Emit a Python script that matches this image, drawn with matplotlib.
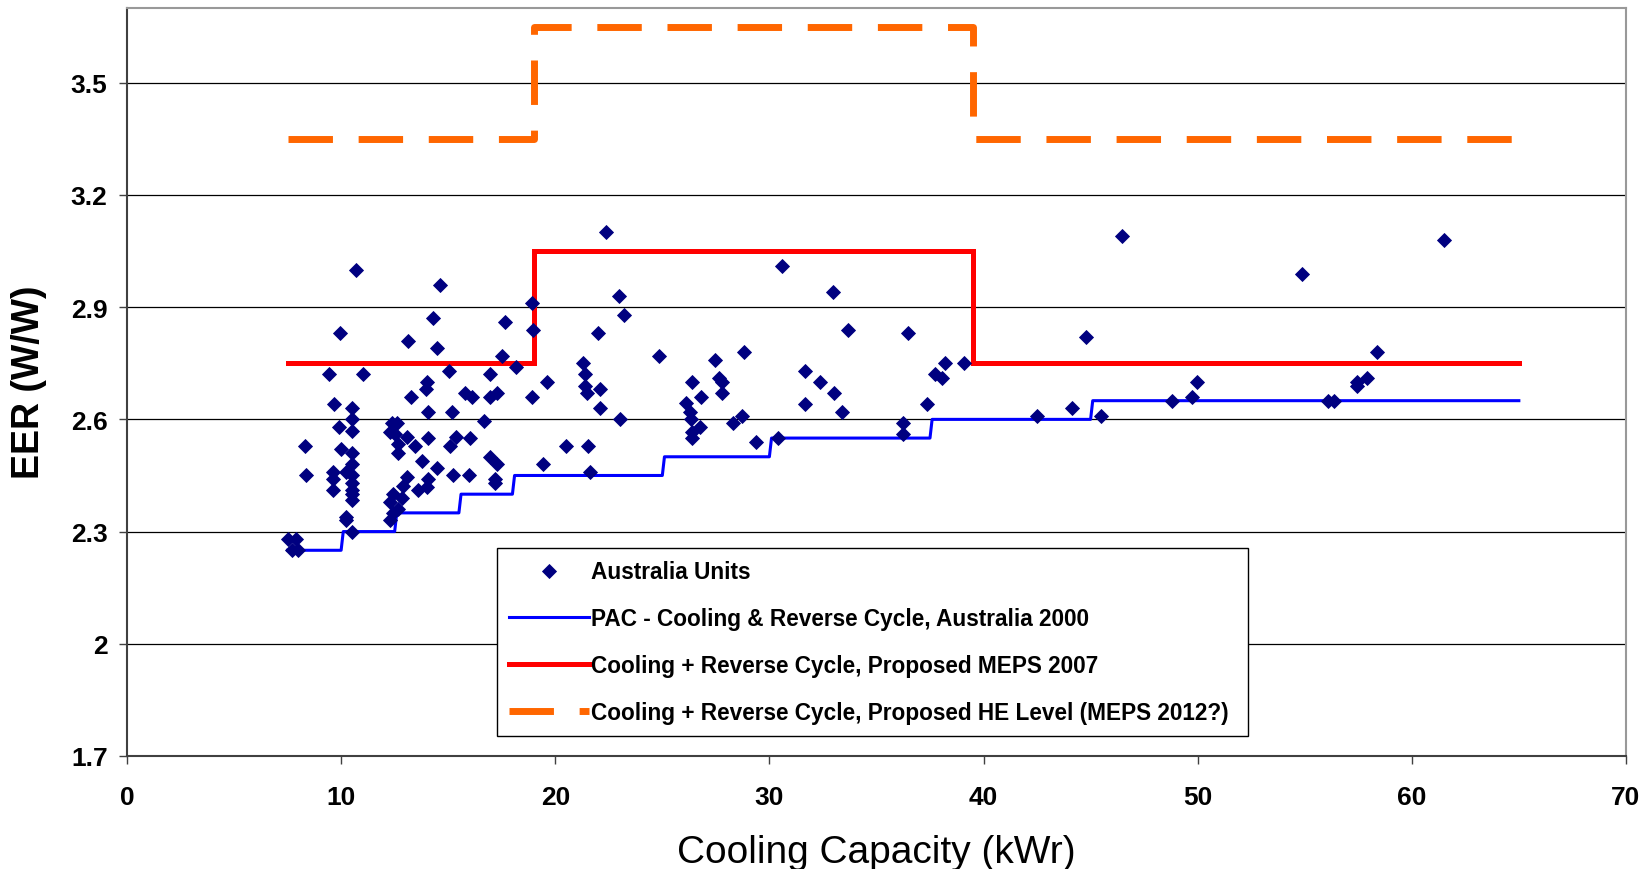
import matplotlib.pyplot as plt

plt.rcParams['font.family'] = ['Liberation Sans', 'DejaVu Sans']

# scatter: individual units (cooling capacity kWr, EER W/W)
units_x = [7.5, 7.9, 7.7, 8.0, 8.3, 8.35,
           9.45, 9.95, 10.7, 11.0, 9.67, 9.9, 9.98, 9.64, 9.64, 9.64,
           10.5, 10.5, 10.5, 10.5, 10.5, 10.5, 10.5, 10.5, 10.5, 10.5,
           10.25, 10.23, 10.23, 10.5,
           12.36, 12.62, 12.28, 12.52, 12.67, 12.67, 13.06, 13.45,
           13.06, 12.9, 12.44, 12.83, 12.28, 12.67, 12.44, 12.28,
           13.12, 13.25, 13.6, 13.76,
           14.0, 13.96, 14.07, 14.07, 14.07, 13.99,
           14.27, 14.62, 14.49, 14.49, 15.02, 15.16, 15.36, 15.08, 15.24,
           15.78, 16.1, 16.02, 15.99, 16.67, 16.95, 16.95, 17.26, 16.95, 17.26, 17.19, 17.19,
           17.64, 17.51, 18.16, 18.91, 18.97, 18.91, 19.6, 19.41,
           20.5, 21.54, 21.62, 21.31, 21.39, 21.39, 21.5, 22.09, 22.09, 21.98, 22.37, 22.99, 23.21, 23.02,
           24.84, 26.1, 26.29, 26.32, 26.37, 26.37, 26.37, 26.8, 26.76, 27.48, 27.66, 27.77, 27.77,
           28.31, 28.73, 28.81, 29.36, 30.41, 30.57,
           31.66, 31.68, 32.36, 32.98, 33.03, 33.4, 33.67,
           36.25, 36.25, 36.47, 37.37, 37.73, 38.07, 38.2, 39.1,
           42.48, 44.13, 44.79, 45.49, 46.48, 48.81, 49.75, 49.95,
           54.88, 56.1, 56.38, 57.42, 57.42, 57.89, 58.36, 61.5]
units_y = [2.28, 2.28, 2.25, 2.25, 2.53, 2.45,
           2.72, 2.83, 3.00, 2.72, 2.64, 2.58, 2.52, 2.46, 2.44, 2.41,
           2.63, 2.60, 2.57, 2.51, 2.48, 2.45, 2.43, 2.41, 2.40, 2.385,
           2.46, 2.34, 2.33, 2.30,
           2.59, 2.59, 2.565, 2.56, 2.535, 2.51, 2.552, 2.53,
           2.445, 2.423, 2.40, 2.39, 2.378, 2.36, 2.35, 2.33,
           2.81, 2.66, 2.41, 2.49,
           2.70, 2.68, 2.62, 2.55, 2.44, 2.418,
           2.87, 2.96, 2.79, 2.47, 2.73, 2.62, 2.554, 2.53, 2.45,
           2.67, 2.66, 2.55, 2.45, 2.595, 2.72, 2.66, 2.67, 2.50, 2.48, 2.44, 2.43,
           2.86, 2.77, 2.74, 2.91, 2.84, 2.66, 2.70, 2.48,
           2.53, 2.53, 2.46, 2.75, 2.72, 2.69, 2.67, 2.68, 2.63, 2.83, 3.10, 2.93, 2.88, 2.60,
           2.77, 2.645, 2.62, 2.60, 2.565, 2.55, 2.70, 2.66, 2.58, 2.76, 2.71, 2.70, 2.67,
           2.59, 2.61, 2.78, 2.54, 2.55, 3.01,
           2.73, 2.64, 2.70, 2.94, 2.67, 2.62, 2.84,
           2.59, 2.56, 2.83, 2.64, 2.72, 2.71, 2.75, 2.75,
           2.61, 2.63, 2.82, 2.61, 3.09, 2.65, 2.66, 2.70,
           2.99, 2.65, 2.65, 2.70, 2.69, 2.71, 2.78, 3.08]

# PAC - Cooling & Reverse Cycle, Australia 2000
pac2000_x = [7.5, 10.0, 10.1, 12.5, 12.6, 15.5, 15.6, 18.0, 18.1, 25.0, 25.1, 30.0,
             30.1, 37.5, 37.6, 45.0, 45.1, 65.0]
pac2000_y = [2.25, 2.25, 2.30, 2.30, 2.35, 2.35, 2.40, 2.40, 2.45, 2.45, 2.50, 2.50,
             2.55, 2.55, 2.60, 2.60, 2.65, 2.65]

# proposed MEPS 2007
meps2007_x = [7.5, 19.0, 19.0, 39.5, 39.5, 65.0]
meps2007_y = [2.75, 2.75, 3.05, 3.05, 2.75, 2.75]

# proposed HE level (MEPS 2012?)
he2012_x = [7.5, 19.0, 19.0, 39.5, 39.5, 65.0]
he2012_y = [3.35, 3.35, 3.65, 3.65, 3.35, 3.35]

x_ticks = [0, 10, 20, 30, 40, 50, 60, 70]
y_ticks = [1.7, 2.0, 2.3, 2.6, 2.9, 3.2, 3.5]

labels = ['Australia Units',
          'PAC - Cooling & Reverse Cycle, Australia 2000',
          'Cooling + Reverse Cycle, Proposed MEPS 2007',
          'Cooling + Reverse Cycle, Proposed HE Level (MEPS 2012?)']

fig = plt.figure(figsize=(16.47, 8.70), dpi=100)
ax = fig.add_axes([0.0771, 0.1299, 0.9101, 0.8598])

h_orange, = ax.plot(he2012_x, he2012_y, color='#FF6600', lw=5,
                    ls=(0, (6.4, 3.7)), dash_capstyle='butt', zorder=3)
h_red, = ax.plot(meps2007_x, meps2007_y, color='#FF0000', lw=3.6,
                 solid_joinstyle='miter', zorder=3)
h_blue, = ax.plot(pac2000_x, pac2000_y, color='#0000FF', lw=2.2, zorder=3)
h_units, = ax.plot(units_x, units_y, ls='none', marker='D', ms=7,
                   color='#000080', mec='#000080', mew=0.6, zorder=4)

ax.set_xlim(0, 70)
ax.set_ylim(1.7, 3.7)
ax.set_xticks(x_ticks)
ax.set_xticklabels([str(v) for v in x_ticks])
ax.set_yticks(y_ticks)
ax.set_yticklabels(['%g' % v for v in y_ticks])
ax.tick_params(axis='both', direction='out', length=6, width=1, color='#404040',
               labelsize=19)
ax.tick_params(axis='x', pad=15)
ax.tick_params(axis='y', pad=8)
for lbl in ax.get_xticklabels() + ax.get_yticklabels():
    lbl.set_fontweight('bold')

ax.yaxis.grid(True, color='black', lw=0.9)
ax.set_axisbelow(True)
for side in ['left', 'bottom']:
    ax.spines[side].set_color('#404040')
    ax.spines[side].set_linewidth(1.5)
for side in ['top', 'right']:
    ax.spines[side].set_color('#999999')
    ax.spines[side].set_linewidth(1.5)

fig.text(29.5 / 1647, 0.561, 'EER (W/W)', rotation=90, ha='center', va='center',
         fontsize=27, fontweight='bold')
fig.text(876.5 / 1647, 0.008, 'Cooling Capacity (kWr)', ha='center', va='baseline',
         fontsize=28)

leg = ax.legend([h_units, h_blue, h_red, h_orange], labels,
                loc='upper left', bbox_to_anchor=(0.2468, 0.032, 0.501, 0.246),
                mode='expand', borderaxespad=0, fancybox=False, shadow=False,
                framealpha=1, edgecolor='black', handlelength=3.5,
                handletextpad=0.1, labelspacing=1.05, borderpad=0.55,
                prop={'weight': 'bold', 'size': 16.3})
leg.get_frame().set_linewidth(1.0)

fig.savefig('out.png', dpi=100)
